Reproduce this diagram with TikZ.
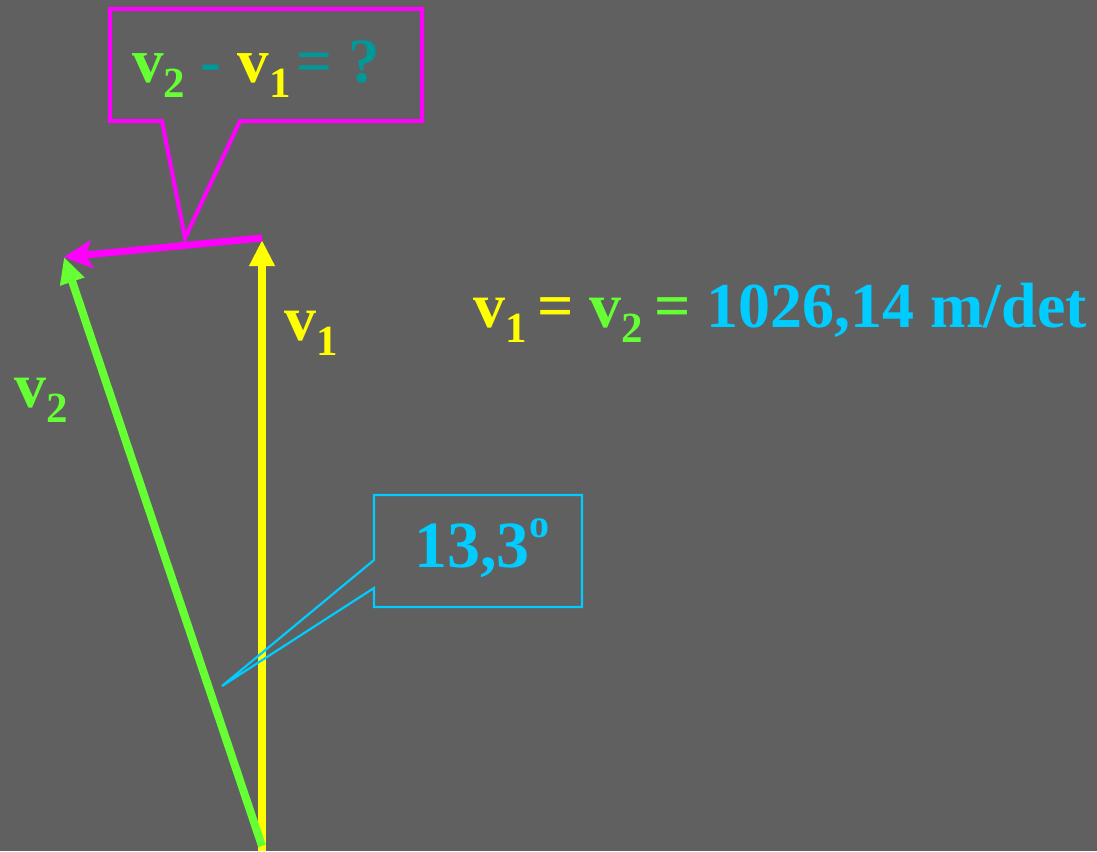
\documentclass[tikz,border=0pt]{standalone}
\usepackage{fontspec}
\setmainfont{Liberation Serif}
\usetikzlibrary{arrows.meta}
\definecolor{bg}{RGB}{96,96,96}
\definecolor{vyel}{RGB}{255,255,0}
\definecolor{vgrn}{RGB}{102,255,51}
\definecolor{vmag}{RGB}{255,0,255}
\definecolor{vcyan}{RGB}{0,204,255}
\definecolor{vteal}{RGB}{0,153,153}
\newcommand{\lowsub}[1]{\raisebox{-0.24em}{\fontsize{43}{43}\selectfont #1}}
\begin{document}
\begin{tikzpicture}[x=1pt,y=-1pt,
  lbl/.style={anchor=base west,inner sep=0pt,font=\fontsize{64}{64}\selectfont\bfseries},
  vec/.style={line width=8pt},
  tri/.style={-{Triangle[width=24pt,length=26pt]}},
  stl/.style={-{Stealth[width=28pt,length=28pt,inset=6pt]}}]
\fill[bg] (0,0) rectangle (1097,851);
\useasboundingbox (0,0) rectangle (1097,851);
% points
\coordinate (O) at (262,851);
\coordinate (G0) at (262,846);
\coordinate (T1) at (262,240);
\coordinate (T2) at (64,257);
\coordinate (M0) at (262,238);
% vectors
\draw[vec,vyel,tri] (O) -- (T1);
\draw[vec,vgrn,tri] (G0) -- (T2);
\draw[line width=7pt,vmag,stl] (M0) -- (T2);
% magenta callout
\draw[vmag,line width=4pt] (110,9) -- (422,9) -- (422,121) -- (240,121) -- (185,238) -- (162,121) -- (110,121) -- cycle;
\node[lbl,font=\fontsize{63}{63}\selectfont\bfseries] (q) at (132,82)
  {\textcolor{vgrn}{v\lowsub{2}}\hspace{0.25em}\textcolor{vteal}{-}\hspace{0.25em}\textcolor{vyel}{v\lowsub{1}}\hspace{0.1em}\textcolor{vteal}{=\hspace{0.25em}?}};
% labels
\node[lbl,vyel] (l1) at (284,340) {v\lowsub{1}};
\node[lbl,vgrn] (l2) at (14,407) {v\lowsub{2}};
% equation
\node[lbl] (eq) at (473,327)
  {\textcolor{vyel}{v\lowsub{1}\,=} \textcolor{vgrn}{v\lowsub{2}\,=} \textcolor{vcyan}{1026,14 m/det}};
% angle callout
\draw[vcyan,line width=2.2pt] (374,495) -- (582,495) -- (582,607) -- (374,607) -- (374,588) -- (222,686) -- (374,560) -- cycle;
\node[lbl,vcyan,font=\fontsize{66}{66}\selectfont\bfseries] (ang) at (414,567)
  {13,3\raisebox{0.45em}{\fontsize{40}{40}\selectfont o}};
\end{tikzpicture}
\end{document}
